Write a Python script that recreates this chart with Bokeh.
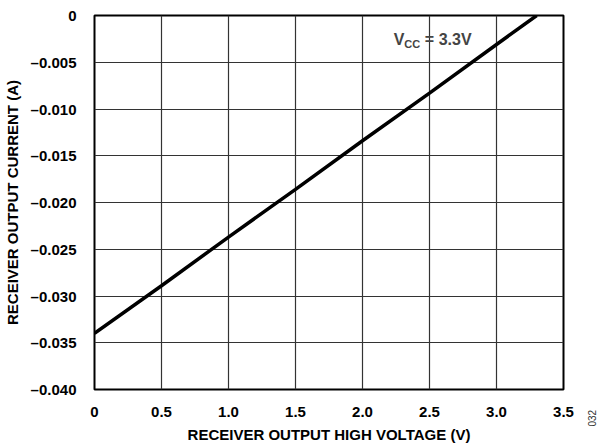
import math
from bokeh.plotting import figure
from bokeh.models import FixedTicker, Label, Range1d
from bokeh.embed import file_html
from bokeh.resources import INLINE

# Data
voltage = [0.0, 0.5, 1.0, 1.5, 2.0, 2.5, 3.0, 3.3]
current = [-0.0340, -0.0289, -0.0237, -0.0186, -0.0134, -0.0083, -0.0031, 0.0]
x_ticks = [0, 0.5, 1.0, 1.5, 2.0, 2.5, 3.0, 3.5]
x_tick_labels = ["0", "0.5", "1.0", "1.5", "2.0", "2.5", "3.0", "3.5"]
y_ticks = [0, -0.005, -0.010, -0.015, -0.020, -0.025, -0.030, -0.035, -0.040]
y_tick_labels = ["0", "\u20130.005", "\u20130.010", "\u20130.015", "\u20130.020",
                 "\u20130.025", "\u20130.030", "\u20130.035", "\u20130.040"]

FONT = "Liberation Sans"

p = figure(width=600, height=445, output_backend="svg", toolbar_location=None,
           x_range=Range1d(0, 3.5), y_range=Range1d(-0.040, 0),
           min_border_left=93, min_border_top=15, min_border_right=37, min_border_bottom=54)

p.outline_line_color = "black"
p.outline_line_width = 2

for ax in (p.xaxis[0], p.yaxis[0]):
    ax.axis_line_color = None
    ax.major_tick_line_color = None
    ax.minor_tick_line_color = None
    ax.major_label_text_font = FONT
    ax.major_label_text_font_style = "bold"
    ax.major_label_text_font_size = "15px"
    ax.major_label_text_color = "black"
    ax.axis_label_text_font = FONT
    ax.axis_label_text_font_style = "bold"
    ax.axis_label_text_font_size = "15px"
    ax.axis_label_text_color = "black"

p.xaxis.ticker = FixedTicker(ticks=x_ticks)
p.xaxis.major_label_overrides = {t: l for t, l in zip(x_ticks, x_tick_labels)}
p.yaxis.ticker = FixedTicker(ticks=y_ticks)
p.yaxis.major_label_overrides = {t: l for t, l in zip(y_ticks, y_tick_labels)}
p.xaxis.major_label_standoff = 11
p.yaxis.major_label_standoff = 12
p.xaxis.axis_label = "RECEIVER OUTPUT HIGH VOLTAGE (V)"
p.yaxis.axis_label = "RECEIVER OUTPUT CURRENT (A)"
p.xaxis.axis_label_standoff = 6
p.yaxis.axis_label_standoff = 7

p.xgrid.ticker = FixedTicker(ticks=x_ticks)
p.ygrid.ticker = FixedTicker(ticks=y_ticks)
p.grid.grid_line_color = "#333333"
p.grid.grid_line_width = 1.2
p.grid.grid_line_alpha = 1.0

p.line(voltage, current, line_color="black", line_width=3.5)

# VCC label with subscript
lx, ly = 2.234, -0.00262
p.add_layout(Label(x=lx, y=ly, text="V", text_font=FONT, text_font_style="bold",
                   text_font_size="16px", text_baseline="middle", text_align="left"))
p.add_layout(Label(x=lx, y=ly, x_offset=10.5, y_offset=-4, text="CC", text_font=FONT,
                   text_font_style="bold", text_font_size="11px", text_baseline="middle",
                   text_align="left"))
p.add_layout(Label(x=lx, y=ly, x_offset=31, text="= 3.3V", text_font=FONT,
                   text_font_style="bold", text_font_size="16px", text_baseline="middle",
                   text_align="left"))

# figure id, placed in the right side panel so it is not clipped to the frame
p.add_layout(Label(x=28, y=-37, x_units="screen", y_units="screen", text="032",
                   angle=math.pi / 2, text_font=FONT, text_font_size="10px",
                   text_color="#333333", text_baseline="middle", text_align="left"), "right")

open("out.html", "w").write(file_html(p, INLINE))
